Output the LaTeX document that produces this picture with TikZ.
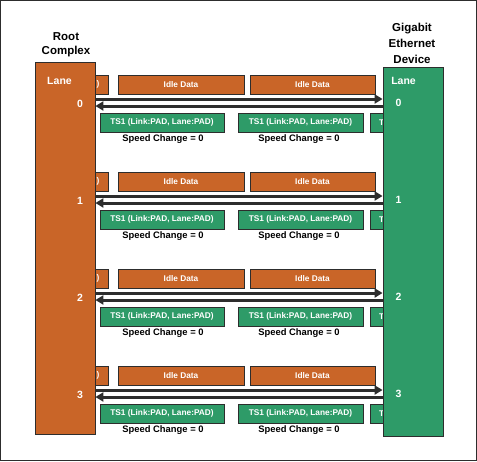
\documentclass[tikz,border=0pt]{standalone}
\usepackage{fontspec}
\setmainfont{Liberation Sans}
\usepackage{xcolor}
\usepackage{tikz}
\usetikzlibrary{arrows.meta}
\definecolor{rcorange}{RGB}{201,101,40}
\definecolor{devgreen}{RGB}{46,155,104}
\definecolor{edge}{RGB}{45,45,45}
\pgfdeclarelayer{bg}
\pgfsetlayers{bg,main}

\begin{document}
\begin{tikzpicture}[x=1pt,y=-1pt,
  idle/.style={rectangle, draw=edge, line width=0.8pt, fill=rcorange, text=white,
    font=\bfseries\fontsize{8.3}{9}\selectfont, minimum height=19pt, inner sep=0pt},
  tsone/.style={idle, fill=devgreen},
  lanebox/.style={rectangle, draw=edge, line width=0.8pt, minimum width=60pt, inner sep=0pt},
  lanetxt/.style={text=white, font=\bfseries\fontsize{10.5}{12}\selectfont, inner sep=0pt},
  head/.style={align=center, inner sep=0pt},
  speed/.style={font=\bfseries\fontsize{9.4}{10}\selectfont, inner sep=0pt},
  link/.style={draw=edge, line width=3pt, -{Triangle[length=8pt,width=9pt]}}]
\useasboundingbox (0,0) rectangle (477,461);
\draw[edge, line width=1pt] (0.5,0.5) rectangle (476.5,460.5);
% Boxes
\node[lanebox, fill=rcorange, minimum height=372pt] (rc) at (65,248) {};
\node[lanebox, fill=devgreen, minimum height=369pt] (dev) at (413,251.5) {};
\node[head, font=\bfseries\fontsize{11.5}{14}\selectfont] (rct) at (66,45) {Root\\Complex};
\node[head, font=\bfseries\fontsize{11.5}{16}\selectfont] (devt) at (412,43) {Gigabit\\Ethernet\\Device};
\node[lanetxt] (rlane) at (59.5,81) {Lane};
\node[lanetxt] (dlane) at (403.5,81) {Lane};
% Lanes
\foreach \i in {0,...,3} {
  \pgfmathsetmacro\yi{84.5+97*\i}
  \pgfmathsetmacro\yt{122.5+97*\i}
  \pgfmathsetmacro\ys{139.5+97*\i}
  \pgfmathsetmacro\ya{99+97*\i}
  \pgfmathsetmacro\yb{106+97*\i}
  \begin{pgfonlayer}{bg}
    \node[idle, minimum width=20pt] (pl\i) at (98,\yi) {)};
    \node[tsone, minimum width=30pt] (pr\i) at (385,\yt) {};
    \node[lanetxt, font=\bfseries\fontsize{8.3}{9}\selectfont, anchor=west] (prt\i) at (379,\yt) {T};
  \end{pgfonlayer}
  \node[idle, minimum width=126pt] (ia\i) at (181,\yi) {Idle Data};
  \node[idle, minimum width=125pt] (ib\i) at (312.5,\yi) {Idle Data};
  \node[tsone, minimum width=124pt] (ta\i) at (162,\yt) {TS1 (Link:PAD, Lane:PAD)};
  \node[tsone, minimum width=125pt] (tb\i) at (300.5,\yt) {TS1 (Link:PAD, Lane:PAD)};
  \node[speed] (sa\i) at (163,\ys) {Speed Change = 0};
  \node[speed] (sb\i) at (299,\ys) {Speed Change = 0};
  \node[lanetxt] (rn\i) at (80,104+97*\i) {\i};
  \node[lanetxt] (dn\i) at (398.5,102.5+97*\i) {\i};
  \draw[link] (rc.east |- 0,\ya) -- (dev.west |- 0,\ya);
  \draw[link] (dev.west |- 0,\yb) -- (rc.east |- 0,\yb);
}
\end{tikzpicture}
\end{document}
